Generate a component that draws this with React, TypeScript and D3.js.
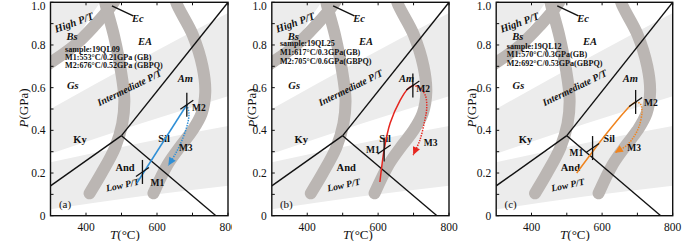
import React from 'react';
import * as d3 from 'd3';

type Pt = [number, number];

// ---------------- data (T in °C, P in GPa) ----------------
const tempTicks = [400, 500, 600, 700, 800];
const tempTickLabels = [400, 600, 800];
const pressTicks = [0, 0.1, 0.2, 0.3, 0.4, 0.5, 0.6, 0.7, 0.8, 0.9, 1.0];
const pressTickLabels = [0, 0.2, 0.4, 0.6, 0.8, 1.0];

// facies-series light bands
const highPTemps = [300, 360, 400, 440];
const highPLower = [0.72, 0.8, 0.9, 1.0];
const intermTemps = [300, 550, 800];
const intermUpper = [0.5, 0.73, 0.95];
const intermLower = [0.29, 0.43, 0.56];
const lowTemps = [300, 550, 800];
const lowUpper = [0.25, 0.34, 0.42];
const lowLower = [0.03, 0.09, 0.14];

// facies boundaries (thick grey)
const faciesBand1: Pt[] = [[280, 0.695], [369, 0.8], [425, 0.893], [473, 0.987], [492, 1.04]];
const faciesBand2: Pt[] = [[451, 1.04], [454, 1.0], [479, 0.842], [498, 0.683], [508, 0.545], [502, 0.43], [482, 0.32], [444, 0.2], [410, 0.105]];
const faciesBand3: Pt[] = [[651, 1.04], [654, 1.0], [700, 0.85], [728, 0.7], [736, 0.58], [726, 0.48], [700, 0.4], [668, 0.33], [630, 0.24], [590, 0.105]];

// Al2SiO5 triple point lines
const kyAnd: Pt[] = [[300, 0.14], [500, 0.375]];
const kySil: Pt[] = [[500, 0.375], [800, 1.0]];
const andSil: Pt[] = [[500, 0.375], [766, 0]];
const ecLine: Pt[] = [[473, 0.983], [533, 0.936]];

type Lab = { t: string; T: number; P: number; rot?: number; it?: boolean; size?: number };
const fieldLabels: Lab[] = [
  { t: 'High P/T', T: 366, P: 0.905, rot: -20, it: true, size: 10.5 },
  { t: 'Bs', T: 361, P: 0.84, it: true, size: 10.5 },
  { t: 'Ec', T: 546, P: 0.924, it: true, size: 10.5 },
  { t: 'EA', T: 566, P: 0.814, it: true, size: 10.5 },
  { t: 'Gs', T: 363, P: 0.608, it: true, size: 10.5 },
  { t: 'Intermediate P/T', T: 522, P: 0.6, rot: -26, it: true, size: 10 },
  { t: 'Am', T: 680, P: 0.644, it: true, size: 10.5 },
  { t: 'Ky', T: 383, P: 0.355, size: 10.5 },
  { t: 'Sil', T: 620, P: 0.364, size: 10.5 },
  { t: 'And', T: 510, P: 0.228, size: 10.5 },
  { t: 'Low P/T', T: 503, P: 0.143, rot: -12, it: true, size: 9.5 },
];

// panel (a) 19QL09
const sampleA = ['sample:19QL09', 'M1:553°C/0.21GPa (GB)', 'M2:676°C/0.52GPa (GBPQ)'];
const progradeA: Pt[] = [[543, 0.152], [684, 0.52]];
const retroA: Pt[] = [[684, 0.52], [690, 0.48], [686, 0.43], [672, 0.36], [652, 0.29], [632, 0.235]];
const markersA: Pt[] = [[559, 0.205], [684, 0.52]];
const stageLabelsA: [string, number, number][] = [['M1', 601, 0.152], ['M2', 718, 0.503], ['M3', 681, 0.316]];

// panel (b) 19QL25
const sampleB = ['sample:19QL25', 'M1:617°C/0.3GPa(GB)', 'M2:705°C/0.6GPa(GBPQ)'];
const progradeB: Pt[] = [[605, 0.158], [611, 0.24], [617, 0.31], [634, 0.434], [662, 0.54], [684, 0.595], [698, 0.61]];
const retroB: Pt[] = [[698, 0.61], [718, 0.6], [734, 0.56], [737, 0.5], [732, 0.45], [718, 0.355], [699, 0.284]];
const markersB: Pt[] = [[617, 0.31], [698, 0.61]];
const stageLabelsB: [string, number, number][] = [['M1', 585, 0.308], ['M2', 727, 0.592], ['M3', 748, 0.342]];

// panel (c) 19QL12
const sampleC = ['sample:19QL12', 'M1:570°C/0.3GPa(GB)', 'M2:692°C/0.53GPa(GBPQ)'];
const progradeC: Pt[] = [[528, 0.2], [573, 0.3], [620, 0.4], [660, 0.48], [680, 0.515], [695, 0.533]];
const retroC: Pt[] = [[695, 0.533], [708, 0.525], [713, 0.49], [705, 0.42], [690, 0.37], [670, 0.33], [636, 0.295]];
const markersC: Pt[] = [[573, 0.317], [695, 0.533]];
const stageLabelsC: [string, number, number][] = [['M1', 527, 0.292], ['M2', 738, 0.53], ['M3', 691, 0.316]];

// ---------------- layout ----------------
const W = 700;
const H = 241;
const TOP = 2.3;
const BOTTOM = 215.7;
const FONT = '"Liberation Serif", "Times New Roman", serif';
const LIGHT = '#ececec';
const DARK = '#bbb6b3';

const panels = [
  { id: 'a', left: 50.5, right: 228, bgX: 0, yTitleX: 23, xTitleX: 125, color: '#2f8fd6', sample: sampleA, sampleT: 341, sampleP: 0.78, sampleGap: 8, prograde: progradeA, retro: retroA, markers: markersA, stages: stageLabelsA },
  { id: 'b', left: 271.8, right: 449, bgX: 232, yTitleX: 251.5, xTitleX: 358, color: '#e5261f', sample: sampleB, sampleT: 323, sampleP: 0.808, sampleGap: 9.2, prograde: progradeB, retro: retroB, markers: markersB, stages: stageLabelsB },
  { id: 'c', left: 496.2, right: 672.7, bgX: 458, yTitleX: 471, xTitleX: 575, color: '#f0841e', sample: sampleC, sampleT: 330, sampleP: 0.795, sampleGap: 8.5, prograde: progradeC, retro: retroC, markers: markersC, stages: stageLabelsC },
];

function Panel({ p }: { p: (typeof panels)[number] }) {
  const x = d3.scaleLinear().domain([300, 800]).range([p.left, p.right]);
  const y = d3.scaleLinear().domain([0, 1]).range([BOTTOM, TOP]);
  const clipId = `clip-${p.id}`;

  const smooth = d3.line<Pt>().x((d) => x(d[0])).y((d) => y(d[1])).curve(d3.curveCatmullRom.alpha(0.5));
  const straight = d3.line<Pt>().x((d) => x(d[0])).y((d) => y(d[1]));

  const areaOf = (ts: number[], lo: number[], hi: number[] | number) =>
    d3
      .area<number>()
      .x((_, i) => x(ts[i]))
      .y0((_, i) => y(lo[i]))
      .y1((_, i) => y(Array.isArray(hi) ? hi[i] : hi))
      .curve(d3.curveNatural)(ts) || '';

  const r = p.retro;
  const e = r[r.length - 1];
  const s = r[r.length - 2];
  const ex = x(e[0]), ey = y(e[1]);
  const sx = x(s[0]), sy = y(s[1]);
  const len = Math.hypot(ex - sx, ey - sy) || 1;
  const ux = (ex - sx) / len, uy = (ey - sy) / len;
  const ah = 8, aw = 3.8;
  const bx = ex - ux * ah, by = ey - uy * ah;
  const arrow = `M${ex},${ey}L${bx - uy * aw},${by + ux * aw}L${bx + uy * aw},${by - ux * aw}Z`;
  const retroPath = smooth(r) || '';

  return (
    <g>
      <rect x={p.bgX} y={0} width={W - p.bgX} height={H} fill="#fff" />
      <defs>
        <clipPath id={clipId}>
          <rect x={p.left} y={TOP} width={p.right - p.left} height={BOTTOM - TOP} />
        </clipPath>
      </defs>
      <g clipPath={`url(#${clipId})`}>
        <path d={areaOf(highPTemps, highPLower, 1.05)} fill={LIGHT} />
        <path d={areaOf(intermTemps, intermLower, intermUpper)} fill={LIGHT} />
        <path d={areaOf(lowTemps, lowLower, lowUpper)} fill={LIGHT} />
        {[faciesBand1, faciesBand2, faciesBand3].map((b, i) => (
          <path key={i} d={smooth(b) || ''} fill="none" stroke={DARK} strokeWidth={12} strokeLinecap="round" />
        ))}
        {[kyAnd, kySil, andSil, ecLine].map((l, i) => (
          <path key={i} d={straight(l) || ''} fill="none" stroke="#111" strokeWidth={1.4} />
        ))}
      </g>

      {fieldLabels.map((l) => (
        <text
          key={l.t}
          transform={`translate(${x(l.T)},${y(l.P)}) rotate(${l.rot || 0})`}
          textAnchor="middle"
          dominantBaseline="central"
          fontFamily={FONT}
          fontWeight="bold"
          fontStyle={l.it ? 'italic' : 'normal'}
          fontSize={l.size || 10}
          fill="#111"
        >
          {l.t}
        </text>
      ))}

      {p.sample.map((t, i) => (
        <text
          key={i}
          x={x(p.sampleT)}
          y={y(p.sampleP) + i * p.sampleGap}
          dominantBaseline="central"
          fontFamily={FONT}
          fontWeight="bold"
          fontSize={8.1}
          fill="#111"
        >
          {t}
        </text>
      ))}

      <text x={x(341)} y={y(0.055)} textAnchor="middle" dominantBaseline="central" fontFamily={FONT} fontSize={11} fill="#111">
        ({p.id})
      </text>

      <path d={smooth(p.prograde) || ''} fill="none" stroke={p.color} strokeWidth={1.5} />
      <path d={retroPath} fill="none" stroke={p.color} strokeWidth={1.5} strokeDasharray="1.4,1.2" />
      <path d={arrow} fill={p.color} />

      {p.markers.map((m, i) => {
        const mx = x(m[0]);
        const my = y(m[1]);
        return (
          <g key={i} stroke="#111" strokeWidth={1.3}>
            <line x1={mx} x2={mx} y1={my - 12} y2={my + 12} />
            <line x1={mx - 6.5} x2={mx + 6.5} y1={my + 4.5} y2={my - 4.5} />
          </g>
        );
      })}
      {p.stages.map(([t, T, P]) => (
        <text key={t} x={x(T)} y={y(P)} textAnchor="middle" dominantBaseline="central" fontFamily={FONT} fontWeight="bold" fontSize={9.5} fill="#111">
          {t}
        </text>
      ))}

      <g stroke="#111" strokeWidth={1}>
        {tempTicks.map((t) => (
          <g key={t}>
            <line x1={x(t)} x2={x(t)} y1={BOTTOM} y2={BOTTOM - 3} />
            <line x1={x(t)} x2={x(t)} y1={TOP} y2={TOP + 3} />
          </g>
        ))}
        {pressTicks.map((v) => (
          <line key={v} x1={p.left} x2={p.left + 3} y1={y(v)} y2={y(v)} />
        ))}
      </g>
      <rect x={p.left} y={TOP} width={p.right - p.left} height={BOTTOM - TOP} fill="none" stroke="#111" strokeWidth={1.4} />

      {tempTickLabels.map((t) => (
        <text key={t} x={x(t)} y={231} textAnchor="middle" fontFamily={FONT} fontSize={11.5} fill="#111">
          {t}
        </text>
      ))}
      {pressTickLabels.map((v) => (
        <text key={v} x={p.left - 5} y={Math.max(y(v), 6)} textAnchor="end" dominantBaseline="central" fontFamily={FONT} fontSize={11.5} fill="#111">
          {v === 0 ? '0' : v.toFixed(1)}
        </text>
      ))}

      <text transform={`translate(${p.yTitleX},${108}) rotate(-90)`} textAnchor="middle" dominantBaseline="central" fontFamily={FONT} fontSize={13} fill="#111">
        <tspan fontStyle="italic">P</tspan>(GPa)
      </text>
      <text x={p.xTitleX} y={239} textAnchor="middle" fontFamily={FONT} fontSize={13} fill="#111">
        <tspan fontStyle="italic">T</tspan>(°C)
      </text>
    </g>
  );
}

export default function App() {
  return (
    <svg width={W} height={H} viewBox={`0 0 ${W} ${H}`} style={{ display: 'block', position: 'fixed', left: 0, top: 0 }}>
      <rect width={W} height={H} fill="#fff" />
      {panels.map((p) => (
        <Panel key={p.id} p={p} />
      ))}
    </svg>
  );
}
